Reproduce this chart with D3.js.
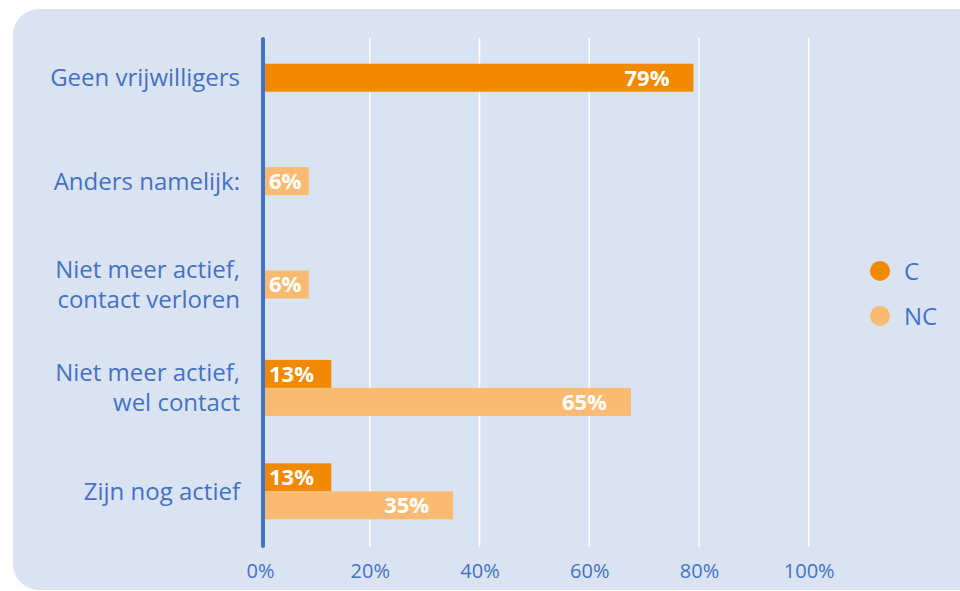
<!DOCTYPE html>
<html>
<head>
<meta charset="utf-8">
<script src="https://cdn.jsdelivr.net/npm/d3@7"></script>
<style>
  body { margin: 0; background: #fff; }
  text { font-family: "Open Sans", sans-serif; }
</style>
</head>
<body>
<div id="canvas"></div>
<script>
// categories, top to bottom (lines of each label)
var categories = ["Geen vrijwilligers", "Anders namelijk:", "Niet meer actief, contact verloren", "Niet meer actief, wel contact", "Zijn nog actief"];
var categoryLines = [["Geen vrijwilligers"], ["Anders namelijk:"], ["Niet meer actief,", "contact verloren"], ["Niet meer actief,", "wel contact"], ["Zijn nog actief"]];

var series = ["C", "NC"];
// bar lengths (null = no bar)
var valuesC = [79, null, null, 13, 13];
var valuesNC = [null, 8.9, 8.9, 67.6, 35.2];
// printed labels
var labelsC = ["79%", null, null, "13%", "13%"];
var labelsNC = [null, "6%", "6%", "65%", "35%"];

var ticks = [0, 20, 40, 60, 80, 100];

var colors = { C: "#f18a00", NC: "#f9ba72" };
var blue = "#4472c4";

var width = 960, height = 591;

var svg = d3.select("#canvas").append("svg")
    .attr("width", width)
    .attr("height", height);

// panel
svg.append("rect")
    .attr("x", 13).attr("y", 9)
    .attr("width", 975).attr("height", 581)
    .attr("rx", 26)
    .attr("fill", "#dae3f1");

var x = d3.scaleLinear().domain([0, 100]).range([260, 808.7]);
var y = d3.scaleBand().domain(categories).range([26, 543]).padding(0);
var barH = 28;
var axisX = 263;

// gridlines
svg.append("g").selectAll("line")
    .data(ticks.slice(1)).enter()
    .append("line")
    .attr("x1", function (d) { return x(d); })
    .attr("x2", function (d) { return x(d); })
    .attr("y1", 38).attr("y2", 547)
    .attr("stroke", "#ffffff")
    .attr("stroke-width", 1.5);

// build bar rows
var bars = [];
categories.forEach(function (c, i) {
    var both = valuesC[i] != null && valuesNC[i] != null;
    var mid = y(c) + y.bandwidth() / 2;
    if (valuesC[i] != null) bars.push({ cat: c, s: "C", v: valuesC[i], label: labelsC[i], top: both ? mid - barH : mid - barH / 2 });
    if (valuesNC[i] != null) bars.push({ cat: c, s: "NC", v: valuesNC[i], label: labelsNC[i], top: both ? mid : mid - barH / 2 });
});

svg.append("g").selectAll("rect")
    .data(bars).enter()
    .append("rect")
    .attr("x", axisX)
    .attr("y", function (d) { return d.top; })
    .attr("width", function (d) { return x(d.v) - axisX; })
    .attr("height", barH)
    .attr("fill", function (d) { return colors[d.s]; });

svg.append("g").selectAll("text")
    .data(bars).enter()
    .append("text")
    .attr("x", function (d) { return x(d.v) - x(0) > 100 ? x(d.v) - 24 : x(0) + 9; })
    .attr("y", function (d) { return d.top + barH / 2; })
    .attr("dy", "0.36em")
    .attr("text-anchor", function (d) { return x(d.v) - x(0) > 100 ? "end" : "start"; })
    .attr("fill", "#fff")
    .attr("font-weight", "bold")
    .attr("font-size", "22px")
    .text(function (d) { return d.label; });

// vertical axis line
svg.append("line")
    .attr("x1", axisX).attr("x2", axisX)
    .attr("y1", 39).attr("y2", 546)
    .attr("stroke", blue)
    .attr("stroke-width", 4)
    .attr("stroke-linecap", "round");

// category labels
var catG = svg.append("g").selectAll("text")
    .data(categories).enter()
    .append("text")
    .attr("text-anchor", "end")
    .attr("fill", blue)
    .attr("font-size", "24px");
catG.each(function (c, i) {
    var lines = categoryLines[i];
    var mid = y(c) + y.bandwidth() / 2;
    d3.select(this).selectAll("tspan")
        .data(lines).enter()
        .append("tspan")
        .attr("x", 240)
        .attr("y", function (l, j) { return mid + (j - (lines.length - 1) / 2) * 30; })
        .attr("dy", "0.35em")
        .text(function (l) { return l; });
});

// x axis
var xAxis = svg.append("g")
    .attr("transform", "translate(0,547)")
    .call(d3.axisBottom(x).tickValues(ticks).tickSize(0).tickPadding(17)
        .tickFormat(function (d) { return d + "%"; }));
xAxis.select(".domain").remove();
xAxis.selectAll("text")
    .attr("fill", blue)
    .attr("font-size", "20px")
    .attr("font-family", "Open Sans, sans-serif");

// legend
var legend = svg.append("g").selectAll("g")
    .data(series).enter()
    .append("g")
    .attr("transform", function (d, i) { return "translate(880," + (271 + i * 45) + ")"; });
legend.append("circle")
    .attr("r", 10)
    .attr("fill", function (d) { return colors[d]; });
legend.append("text")
    .attr("x", 24)
    .attr("dy", "0.36em")
    .attr("fill", blue)
    .attr("font-size", "24px")
    .text(function (d) { return d; });
</script>
</body>
</html>
